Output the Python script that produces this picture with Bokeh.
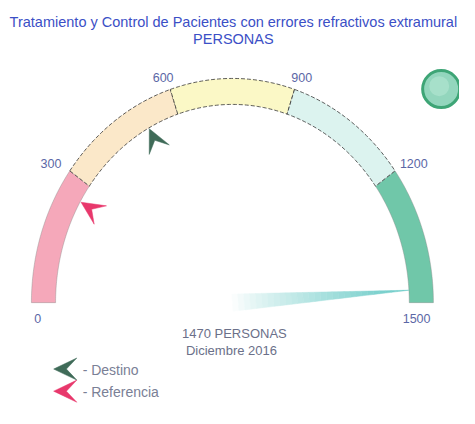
import numpy as np
from bokeh.plotting import figure
from bokeh.models import Range1d
from bokeh.core.properties import value
from bokeh.embed import file_html
from bokeh.resources import INLINE

# ---------------- data ----------------
title_lines = ["Tratamiento y Control de Pacientes con errores refractivos extramural", "PERSONAS"]
ticks = [0, 300, 600, 900, 1200, 1500]
tick_labels = ["0", "300", "600", "900", "1200", "1500"]
band_colors = ["#f5a8ba", "#fbe8c9", "#fbf8c6", "#dcf3ef", "#70c7a9"]
band_dashed = [False, True, True, True, False]
gauge_value = 1470
unit = "PERSONAS"
period = "Diciembre 2016"
destino = 515
referencia = 255
legend_labels = ["- Destino", "- Referencia"]
legend_colors = ["#3f6b58", "#e8386c"]
status_color = "#93d6bd"
status_line = "#3ea576"

FONT = value("Liberation Sans")

# ---------------- geometry (reference pixel space, y downward) ----------------
W, H = 475, 424
CX, CY = 240, 314
RXO, RYO = 208, 233
RXI, RYI = 183, 206
VMIN, VMAX = ticks[0], ticks[-1]


def ang(v):
    return np.pi * (1 - (v - VMIN) / (VMAX - VMIN))


def ell(theta, rx, ry):
    return CX + rx * np.cos(theta), CY - ry * np.sin(theta)


def arrow(tx, ty, dx, dy, L=24.0, Wd=11.5, notch=0.55):
    nrm = np.hypot(dx, dy)
    dx, dy = dx / nrm, dy / nrm
    nx, ny = -dy, dx
    xs = [tx, tx + L * dx + Wd * nx, tx + notch * L * dx, tx + L * dx - Wd * nx]
    ys = [ty, ty + L * dy + Wd * ny, ty + notch * L * dy, ty + L * dy - Wd * ny]
    return xs, ys


p = figure(width=459, height=408, x_range=Range1d(0, W), y_range=Range1d(H, 0),
           output_backend="svg", toolbar_location=None, min_border=0)
p.axis.visible = False
p.grid.visible = False
p.outline_line_color = None
p.background_fill_color = "white"

# ---------------- bands ----------------
sx, sy, sc = [], [], []
dx_, dy_, dc = [], [], []
for i in range(len(band_colors)):
    th = np.linspace(ang(ticks[i]), ang(ticks[i + 1]), 60)
    ox, oy = ell(th, RXO, RYO)
    ix, iy = ell(th[::-1], RXI, RYI)
    xs = list(ox) + list(ix)
    ys = list(oy) + list(iy)
    if band_dashed[i]:
        dx_.append(xs); dy_.append(ys); dc.append(band_colors[i])
    else:
        sx.append(xs); sy.append(ys); sc.append(band_colors[i])

p.patches(sx, sy, fill_color=sc, line_color="#8a8a8a", line_alpha=0.6, line_width=0.7)
p.patches(dx_, dy_, fill_color=dc, line_color="#333333", line_width=0.8, line_dash="4 2")

# ---------------- needle (gradient from white to teal) ----------------
th_v = ang(gauge_value)
tipx, tipy = ell(th_v, RXI, RYI)
vx, vy = tipx - CX, tipy - CY
vl = np.hypot(vx, vy)
nx, ny = -vy / vl, vx / vl
hw = 9.0
N = 30
c0 = np.array([255, 255, 255])
c1 = np.array([104, 202, 198])
nxs, nys, ncol = [], [], []
for k in range(N):
    t0, t1 = k / N, (k + 1) / N
    w0, w1 = hw * (1 - t0), hw * (1 - t1)
    ax0, ay0 = CX + t0 * vx, CY + t0 * vy
    ax1, ay1 = CX + t1 * vx, CY + t1 * vy
    nxs.append([ax0 + w0 * nx, ax1 + w1 * nx, ax1 - w1 * nx, ax0 - w0 * nx])
    nys.append([ay0 + w0 * ny, ay1 + w1 * ny, ay1 - w1 * ny, ay0 - w0 * ny])
    tm = ((t0 + t1) / 2) ** 0.85
    c = (c0 * (1 - tm) + c1 * tm).astype(int)
    ncol.append("#%02x%02x%02x" % tuple(c))
p.patches(nxs, nys, fill_color=ncol, line_color=ncol, line_width=0.5)

# ---------------- markers on gauge ----------------
for v, col in [(destino, legend_colors[0]), (referencia, legend_colors[1])]:
    tx, ty = ell(ang(v), RXI - 1, RYI - 1)
    xs, ys = arrow(tx, ty, CX - tx, CY - ty)
    p.patch(xs, ys, fill_color=col, line_color=col, line_width=0.5)

# ---------------- tick labels ----------------
for v, lab in zip(ticks, tick_labels):
    th = ang(v)
    if v == VMIN or v == VMAX:
        x = CX + np.cos(th) * (RXO - 3)
        y = CY + 16
        a = "left" if v == VMIN else "right"
    else:
        x, y = ell(th, RXO + 24, RYO + 13)
        a = "center"
    p.text([x], [y], text=[lab], text_font=FONT, text_font_size="12.5px",
           text_color="#5b67a6", text_align=a, text_baseline="middle")

# ---------------- title ----------------
p.text([241, 241], [22, 40], text=title_lines, text_font=FONT, text_font_size="14.5px",
       text_color="#3b4fc6", text_align="center", text_baseline="middle")

# ---------------- value text ----------------
p.text([242, 239], [346, 364], text=[f"{gauge_value} {unit}", period], text_font=FONT,
       text_font_size="13px", text_color="#6b7089", text_align="center",
       text_baseline="middle")

# ---------------- status light ----------------
p.scatter([456], [92], size=37, fill_color=status_color, line_color=status_line, line_width=3)
p.scatter([454], [89], size=20, fill_color="#b4e6d2", line_color=None, fill_alpha=0.6)

# ---------------- legend ----------------
for i, (lab, col) in enumerate(zip(legend_labels, legend_colors)):
    ty = 383 + 23 * i
    xs, ys = arrow(55, ty, 1, 0)
    p.patch(xs, ys, fill_color=col, line_color=col, line_width=0.5)
    p.text([85], [ty + 1], text=[lab], text_font=FONT, text_font_size="14px",
           text_color="#7a8096", text_align="left", text_baseline="middle")

open("out.html", "w").write(file_html(p, INLINE))
